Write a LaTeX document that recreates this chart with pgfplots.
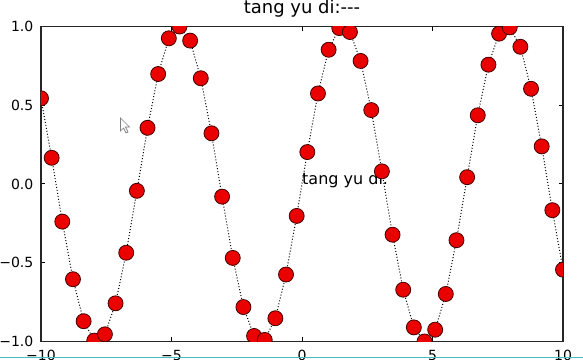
\documentclass[border=0pt]{standalone}
\usepackage{pgfplots}
\pgfplotsset{compat=1.18}
\usepackage{fontspec}
\setmainfont{DejaVu Sans}
\definecolor{teal1}{RGB}{70,190,190}
\definecolor{mred}{RGB}{235,0,0}
\begin{document}
\begin{tikzpicture}[x=1pt,y=1pt]
\path[use as bounding box] (0,0) rectangle (583,359);
\clip (0,0) rectangle (583,359);
\begin{axis}[
  at={(41pt,17.5pt)}, anchor=south west,
  scale only axis, width=522pt, height=315pt,
  xmin=-10, xmax=10, ymin=-1, ymax=1,
  xtick={-10,-5,0,5,10}, xticklabels={−10,−5,0,5,10},
  ytick={-1,-0.5,0,0.5,1}, yticklabels={−1.0,−0.5,0.0,0.5,1.0},
  tick align=inside, tick pos=both,
  major tick length=4.5pt,
  every tick/.style={black, line width=1pt},
  axis line style={line width=1.2pt, black!85},
  xticklabel style={font=\fontsize{14}{16}\selectfont, inner sep=0pt, anchor=north, yshift=-8.5pt},
  yticklabel style={font=\fontsize{14}{16}\selectfont, inner sep=0pt, anchor=east, xshift=-7.5pt},
  clip marker paths=true,
  title={tang yu di:-{}-{}-},
  title style={font=\fontsize{18}{20}\selectfont, inner sep=0pt, anchor=base, at={(0.5,1)}, yshift=7pt},
]
\node[anchor=base west, inner sep=0pt, font=\fontsize{16}{18}\selectfont] at (axis cs:0,0) {tang yu di.};
\addplot[black, line width=1pt, dash pattern=on 1pt off 2pt,
  mark=*, mark size=7.5pt, mark options={solid, fill=mred, draw=black!75!red, line width=0.8pt}]
coordinates {
(-10.00000,0.54402) (-9.59184,0.16628) (-9.18367,-0.23878) (-8.77551,-0.60460)
(-8.36735,-0.87110) (-7.95918,-0.99447) (-7.55102,-0.95446) (-7.14286,-0.75763)
(-6.73469,-0.43632) (-6.32653,-0.04333) (-5.91837,0.35678) (-5.51020,0.69828)
(-5.10204,0.92504) (-4.69388,0.99983) (-4.28571,0.91034) (-3.87755,0.67129)
(-3.46939,0.32195) (-3.06122,-0.08028) (-2.65306,-0.46933) (-2.24490,-0.78126)
(-1.83673,-0.96485) (-1.42857,-0.98990) (-1.02041,-0.85232) (-0.61224,-0.57470)
(-0.20408,-0.20267) (0.20408,0.20267) (0.61224,0.57470) (1.02041,0.85232)
(1.42857,0.98990) (1.83673,0.96485) (2.24490,0.78126) (2.65306,0.46933)
(3.06122,0.08028) (3.46939,-0.32195) (3.87755,-0.67129) (4.28571,-0.91034)
(4.69388,-0.99983) (5.10204,-0.92504) (5.51020,-0.69828) (5.91837,-0.35678)
(6.32653,0.04333) (6.73469,0.43632) (7.14286,0.75763) (7.55102,0.95446)
(7.95918,0.99447) (8.36735,0.87110) (8.77551,0.60460) (9.18367,0.23878)
(9.59184,-0.16628) (10.00000,-0.54402)
};
\end{axis}
% screenshot artefacts: mouse cursor and bottom line
\draw[gray, line width=0.7pt, fill=white] (120.5,241) -- (120.5,228) -- (123.5,231) -- (126,226) -- (128,227) -- (125.5,232) -- (129.5,232) -- cycle;
\draw[teal1, line width=1.5pt] (0,1.5) -- (583,1.5);
\end{tikzpicture}
\end{document}
